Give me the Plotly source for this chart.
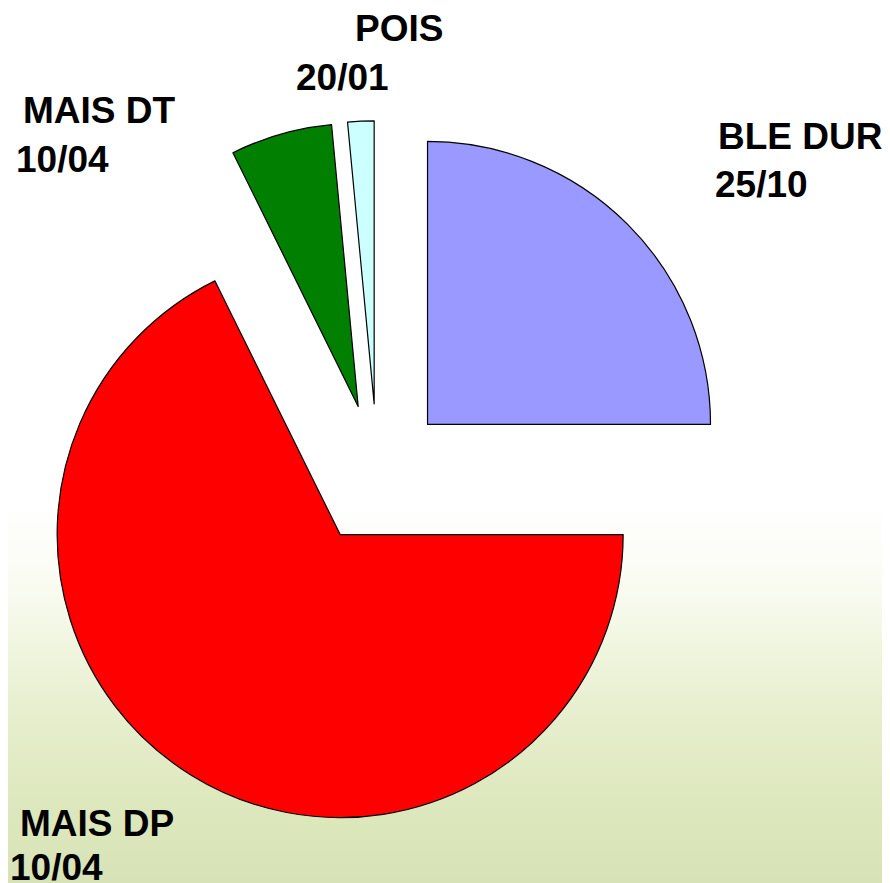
import plotly.graph_objects as go

# ---- data ----
crops = ["BLE DUR", "MAIS DP", "MAIS DT", "POIS"]
shares = [25.0, 67.7, 5.8, 1.5]
dates = ["25/10", "10/04", "10/04", "20/01"]
colors = ["#9999FF", "#FF0000", "#007F00", "#CCFFFF"]

# page body has an 8px margin: figure sits at (8, 8) in the window
OFF = 8
W, H = 890 - OFF, 883 - OFF

# label positions in window pixels (x left edge, y middle of caps)
label_pos = {
    "BLE DUR": ((716, 136), (713, 184)),
    "MAIS DP": ((18, 823), (8, 867)),
    "MAIS DT": ((21, 111), (14, 159)),
    "POIS": ((353, 28), (294, 78)),
}

# pie centre / radius in window pixels
cx, cy, r, pull = 377.5, 474.5, 283.0, 0.25
half = r * (1 + pull)
fx, fy = cx - OFF, cy - OFF

fig = go.Figure()
fig.add_trace(go.Pie(
    labels=crops,
    values=shares,
    sort=False,
    direction="clockwise",
    rotation=0,
    pull=[pull] * len(crops),
    marker=dict(colors=colors, line=dict(color="black", width=1.2)),
    textinfo="none",
    hoverinfo="label+percent",
    showlegend=False,
    domain=dict(x=[(fx - half) / W, (fx + half) / W],
                y=[(H - fy - half) / H, (H - fy + half) / H]),
))

# background gradient (white top -> pale green bottom), window pixel rows
stops = [(0, (255, 255, 255)), (500, (255, 255, 255)), (580, (250, 252, 243)),
         (650, (240, 245, 222)), (720, (230, 238, 204)), (800, (222, 232, 190)),
         (883, (215, 227, 182))]
def col_at(y):
    for (y0, c0), (y1, c1) in zip(stops[:-1], stops[1:]):
        if y0 <= y <= y1:
            t = (y - y0) / (y1 - y0) if y1 > y0 else 0
            return "rgb(%d,%d,%d)" % tuple(round(a + (b - a) * t) for a, b in zip(c0, c1))
    return "rgb(%d,%d,%d)" % stops[-1][1]

shapes = []
step = 4
for y in range(480, 883, step):
    c = col_at(y + step / 2)
    y0 = min(H, (y + step + 1) - OFF)
    y1 = max(0, y - OFF)
    shapes.append(dict(type="rect", xref="paper", yref="paper", layer="below",
                       x0=0, x1=1, y0=1 - y0 / H, y1=1 - y1 / H,
                       fillcolor=c, line=dict(width=0)))

annotations = []
for name, date in zip(crops, dates):
    (nx, ny), (dx, dy) = label_pos[name]
    for txt, (x, y) in ((name, (nx, ny)), (date, (dx, dy))):
        annotations.append(dict(
            text="<b>%s</b>" % txt, x=(x - OFF) / W, y=1 - (y - OFF) / H,
            xref="paper", yref="paper",
            xanchor="left", yanchor="middle", showarrow=False,
            font=dict(family="Liberation Sans, Arial, sans-serif", size=37, color="black"),
        ))

fig.update_layout(
    width=W, height=H,
    margin=dict(l=0, r=0, t=0, b=0),
    paper_bgcolor="white", plot_bgcolor="white",
    shapes=shapes, annotations=annotations,
)
fig.write_html("out.html")
